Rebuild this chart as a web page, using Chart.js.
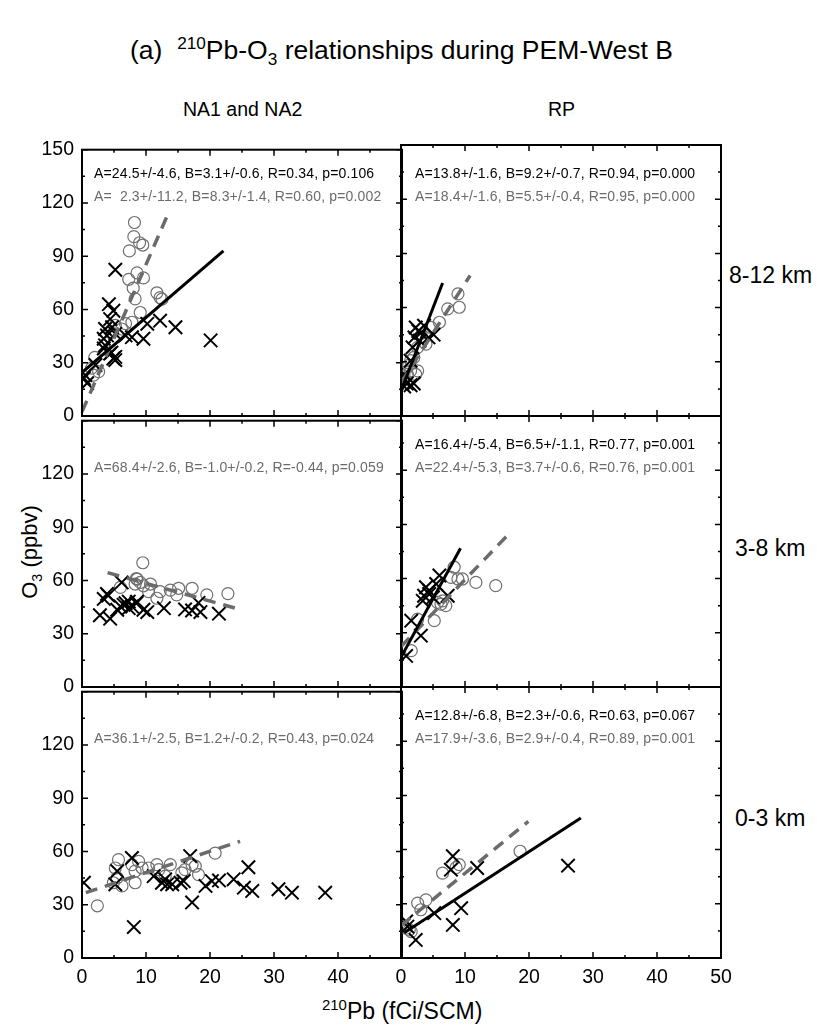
<!DOCTYPE html>
<html lang="en">
<head>
<meta charset="UTF-8">
<title>210Pb-O3 relationships during PEM-West B</title>
<script src="https://cdn.jsdelivr.net/npm/chart.js"></script>
<style>
    body { margin: 0; background: #fff; font-family: 'Liberation Sans', Arial, Helvetica, sans-serif; }
    #wrap { position: relative; width: 817px; height: 1028px; overflow: hidden; background: #fff; }
    #wrap canvas { position: absolute; }
    .lbl { position: absolute; white-space: pre; color: #000; line-height: 1; }
    .big { font-size: 23px; }
    .note { font-size: 14px; letter-spacing: 0.15px; }
    .gray { color: #6b6b6b; }
    sup, sub { font-size: 65%; line-height: 0; }
</style>
</head>
<body>
<div id="wrap">
    <div class="lbl" style="left:130px; top:37px; font-size:26.5px;">(a)&nbsp; <sup>210</sup>Pb-O<sub>3</sub> relationships during PEM-West B</div>
    <div class="lbl" style="left:183px; top:100px; font-size:19.5px;">NA1 and NA2</div>
    <div class="lbl" style="left:548px; top:100px; font-size:19.5px;">RP</div>
    <div class="lbl big" style="left:729px; top:264px;">8-12 km</div>
    <div class="lbl big" style="left:735px; top:537px;">3-8 km</div>
    <div class="lbl big" style="left:735px; top:807px;">0-3 km</div>
    <div class="lbl" style="left:-20px; top:541px; width:100px; text-align:center; transform:rotate(-90deg); font-size:22px;">O<sub>3</sub> (ppbv)</div>
    <div class="lbl big" style="left:322px; top:1000px;"><sup>210</sup>Pb (fCi/SCM)</div>
</div>

<script>
    // panel order: NA upper, RP upper, NA mid, RP mid, NA low, RP low
    const naUpperCircX = [8.2, 8.1, 7.4, 9.0, 9.5, 8.6, 9.6, 7.3, 8.0, 8.3, 11.7, 12.2, 12.5, 9.1, 5.2, 6.8, 7.8, 2.0, 2.6, 1.8, 1.5, 4.5, 6.2];
    const naUpperCircY = [109, 101, 93, 97.6, 96.3, 80.6, 77.8, 77, 72, 66, 69.4, 66.7, 65.8, 58.3, 51, 52, 52.8, 33, 25, 23, 27, 47, 49];
    const naUpperCrossX = [5.2, 4.2, 4.9, 4.4, 3.6, 4.7, 3.9, 5.2, 3.4, 6.8, 7.8, 9.6, 10.2, 12.2, 14.6, 20.1, 3.4, 4.4, 4.9, 5.2, 2.1, 0.5, 0.8, 0.3, 3.6, 4.6, 5.2];
    const naUpperCrossY = [82.4, 63, 59.3, 54.6, 49, 50, 45.4, 46.3, 43.5, 45.4, 44.4, 43.5, 51.9, 53.7, 50, 42.6, 38, 35.2, 32.4, 33.3, 28.7, 23, 18.5, 21.3, 39.8, 35.7, 31.5];

    const rpUpperCircX = [8.9, 9.1, 7.3, 6.0, 4.7, 3.9, 2.6, 2.0, 1.5, 2.6, 1.5, 1.0, 2.3, 0.3, 3.2, 1.2];
    const rpUpperCircY = [67.6, 60.2, 59.3, 51.9, 49, 39.8, 38, 32.4, 30.6, 25, 25, 23, 23, 21, 44, 28];
    const rpUpperCrossX = [2.3, 3.1, 3.6, 2.1, 2.9, 5.1, 1.8, 1.5, 0.9, 1.5, 0.5, 2.0, 0.5, 4.3, 2.7];
    const rpUpperCrossY = [49, 46, 50, 43.5, 41.7, 45, 38, 30.6, 18, 17, 16.3, 18, 23, 43.5, 47];

    const naMidCircX = [9.5, 8.6, 9.1, 8.3, 9.6, 10.7, 6.0, 10.4, 11.7, 12.2, 13.8, 15.1, 14.8, 17.2, 19.5, 22.8, 8.5];
    const naMidCircY = [70, 60.7, 58.9, 58, 57, 58, 56.1, 53.7, 50, 53.7, 54.6, 55.6, 51.9, 55.6, 51.9, 52.6, 61.1];
    const naMidCrossX = [3.9, 3.4, 6.2, 4.1, 2.8, 4.4, 6.5, 7.3, 7.8, 8.5, 9.6, 12.8, 16.1, 17.2, 18.2, 18.5, 21.4, 10.2, 6.0, 6.8, 5.5, 7.3, 8.6];
    const naMidCrossY = [52.4, 49.6, 58.9, 51.5, 40.4, 38.5, 46.3, 48.1, 45.4, 47.2, 43.5, 44.4, 43.7, 43.1, 47.4, 42.2, 41.3, 42.2, 45.4, 47.2, 43.5, 44.4, 48];

    const rpMidCircX = [8.3, 7.8, 8.9, 9.6, 11.7, 14.8, 5.7, 6.25, 7.0, 6.5, 5.2, 2.6, 1.6];
    const rpMidCircY = [66.3, 60.7, 59.8, 59.8, 57.9, 56.1, 46.8, 45.9, 45, 47.7, 36.7, 37.6, 20.1];
    const rpMidCrossX = [6.0, 3.9, 3.6, 4.4, 5.0, 3.4, 5.5, 7.3, 1.6, 3.1, 0.8, 4.4];
    const rpMidCrossY = [61.7, 55.2, 50.5, 51.5, 49.6, 47.7, 57, 50.5, 36.7, 28.4, 17.2, 53.3];

    const naLowCircX = [2.4, 5.7, 5.2, 5.5, 6.25, 4.9, 8.3, 7.8, 8.85, 9.4, 8.3, 10.4, 11.7, 12.0, 13.8, 13.0, 15.6, 16.1, 17.2, 17.7, 18.2, 20.8];
    const naLowCircY = [29.4, 55.4, 50.7, 45.2, 40.6, 42.4, 42.4, 52.6, 54.4, 50.7, 48.9, 50.7, 52.6, 49.8, 52.6, 46.1, 48, 49.8, 52.6, 51.7, 47, 59.1];
    const naLowCrossX = [0.3, 7.8, 5.5, 5.2, 8.1, 11.2, 12.5, 13.3, 13.0, 14.1, 15.4, 16.9, 15.9, 17.2, 19.3, 20.3, 21.4, 23.7, 26.0, 25.3, 26.6, 30.7, 32.8, 38.0];
    const naLowCrossY = [42.4, 56.3, 48.9, 41.5, 17.4, 46.1, 42.4, 41.5, 44.3, 41.5, 42.4, 57.4, 43.3, 31.3, 40.6, 43.3, 43.7, 44.3, 51.1, 39.6, 37.8, 38.7, 36.8, 36.8];

    const rpLowCircX = [18.6, 9.1, 8.6, 6.5, 2.6, 3.9, 3.1, 0.8, 1.3, 1.6, 0.3];
    const rpLowCircY = [59.1, 51.7, 50, 47, 30.4, 32.2, 26.7, 16.5, 15.6, 14.6, 17.4];
    const rpLowCrossX = [8.1, 7.8, 11.9, 26.1, 5.2, 9.4, 8.1, 2.3, 0.8, 1.0];
    const rpLowCrossY = [56.3, 48.9, 49.8, 51.1, 24.8, 27.6, 18.3, 10, 20.2, 17.4];

    // regression y = A + B*x, drawn over [x0, x1]; null = no fit shown
    const crossFitA = [24.5, 13.8, null, 16.4, null, 12.8];
    const crossFitB = [3.1, 9.2, null, 6.5, null, 2.3];
    const crossFitX0 = [0, 0.3, null, 0, null, 0.5];
    const crossFitX1 = [22.1, 6.5, null, 9.3, null, 28.1];
    const circFitA = [2.3, 18.4, 68.4, 22.4, 36.1, 17.9];
    const circFitB = [8.3, 5.5, -1.0, 3.7, 1.2, 2.9];
    const circFitX0 = [0, 0, 4, 0, 0.6, 0];
    const circFitX1 = [13.3, 10.8, 24.7, 17, 24.7, 19.9];

    const crossNotes = [
        'A=24.5+/-4.6, B=3.1+/-0.6, R=0.34, p=0.106',
        'A=13.8+/-1.6, B=9.2+/-0.7, R=0.94, p=0.000',
        '',
        'A=16.4+/-5.4, B=6.5+/-1.1, R=0.77, p=0.001',
        '',
        'A=12.8+/-6.8, B=2.3+/-0.6, R=0.63, p=0.067'
    ];
    const circNotes = [
        'A=  2.3+/-11.2, B=8.3+/-1.4, R=0.60, p=0.002',
        'A=18.4+/-1.6, B=5.5+/-0.4, R=0.95, p=0.000',
        'A=68.4+/-2.6, B=-1.0+/-0.2, R=-0.44, p=0.059',
        'A=22.4+/-5.3, B=3.7+/-0.6, R=0.76, p=0.001',
        'A=36.1+/-2.5, B=1.2+/-0.2, R=0.43, p=0.024',
        'A=17.9+/-3.6, B=2.9+/-0.4, R=0.89, p=0.001'
    ];

    const xTicksMax = 50, yTicksMax = 150;

    const panels = [
        [naUpperCircX, naUpperCircY, naUpperCrossX, naUpperCrossY],
        [rpUpperCircX, rpUpperCircY, rpUpperCrossX, rpUpperCrossY],
        [naMidCircX, naMidCircY, naMidCrossX, naMidCrossY],
        [rpMidCircX, rpMidCircY, rpMidCrossX, rpMidCrossY],
        [naLowCircX, naLowCircY, naLowCrossX, naLowCrossY],
        [rpLowCircX, rpLowCircY, rpLowCrossX, rpLowCrossY]
    ];

    const colLeft = [82, 401];
    const rowTop = [145, 416, 687];
    const plotW = 320, plotH = 271;
    const padL = 70, padT = 15, padR = 20, padB = 40;
    const circColor = '#707070';
    const tickFont = { family: "'Liberation Sans', Arial, sans-serif", size: 19.5 };
    const wrap = document.getElementById('wrap');

    function toPoints(xs, ys) {
        return xs.map((x, i) => ({ x: x, y: ys[i] }));
    }

    function fitLine(a, b, x0, x1) {
        return [{ x: x0, y: a + b * x0 }, { x: x1, y: a + b * x1 }];
    }

    // frame + inward ticks on all four sides
    const framePlugin = {
        id: 'frame',
        afterDraw(chart) {
            const c = chart.ctx, area = chart.chartArea;
            const xs = chart.scales.x, ys = chart.scales.y;
            c.save();
            c.strokeStyle = '#000';
            c.lineWidth = 1.5;
            c.beginPath();
            for (let v = 0; v <= xTicksMax; v += 5) {
                const px = xs.getPixelForValue(v);
                const len = v % 10 === 0 ? 6 : 3;
                c.moveTo(px, area.bottom); c.lineTo(px, area.bottom - len);
                c.moveTo(px, area.top); c.lineTo(px, area.top + len);
            }
            for (let v = 0; v <= yTicksMax; v += 15) {
                const py = ys.getPixelForValue(v);
                const len = v % 30 === 0 ? 6 : 3;
                c.moveTo(area.left, py); c.lineTo(area.left + len, py);
                c.moveTo(area.right, py); c.lineTo(area.right - len, py);
            }
            c.stroke();
            c.lineWidth = 2;
            c.strokeRect(area.left, area.top, area.right - area.left, area.bottom - area.top);
            c.restore();
        }
    };

    panels.forEach((p, i) => {
        const col = i % 2, row = Math.floor(i / 2);
        const canvas = document.createElement('canvas');
        canvas.width = plotW + padL + padR;
        canvas.height = plotH + padT + padB;
        canvas.style.left = (colLeft[col] - padL) + 'px';
        canvas.style.top = (rowTop[row] - padT) + 'px';
        wrap.appendChild(canvas);

        const datasets = [
            {
                data: toPoints(p[0], p[1]),
                pointStyle: 'circle', pointRadius: 6, pointBorderWidth: 1.2,
                pointBorderColor: circColor, pointBackgroundColor: 'rgba(0,0,0,0)',
                showLine: false, order: 3
            },
            {
                data: toPoints(p[2], p[3]),
                pointStyle: 'crossRot', pointRadius: 9.5, pointBorderWidth: 2,
                pointBorderColor: '#000', showLine: false, order: 2
            },
            {
                data: fitLine(circFitA[i], circFitB[i], circFitX0[i], circFitX1[i]),
                showLine: true, pointRadius: 0, borderColor: '#6b6b6b',
                borderWidth: 3.5, borderDash: [12, 8], order: 1
            }
        ];
        if (crossFitA[i] !== null) {
            datasets.push({
                data: fitLine(crossFitA[i], crossFitB[i], crossFitX0[i], crossFitX1[i]),
                showLine: true, pointRadius: 0, borderColor: '#000',
                borderWidth: 3, order: 0
            });
        }

        new Chart(canvas, {
            type: 'scatter',
            data: { datasets: datasets },
            options: {
                responsive: false,
                animation: false,
                events: [],
                layout: { padding: { top: padT, right: padR, left: 0, bottom: 0 } },
                plugins: { legend: { display: false }, tooltip: { enabled: false } },
                scales: {
                    x: {
                        min: 0, max: xTicksMax,
                        grid: { display: false, drawTicks: false },
                        border: { display: false },
                        ticks: {
                            display: row === 2,
                            stepSize: 10, padding: 8, color: '#000',
                            font: tickFont,
                            maxRotation: 0,
                            callback: (v) => (col === 0 && v === 50) ? '' : v
                        },
                        afterFit: (s) => { s.height = padB; }
                    },
                    y: {
                        min: 0, max: yTicksMax,
                        grid: { display: false, drawTicks: false },
                        border: { display: false },
                        ticks: {
                            display: col === 0,
                            stepSize: 30, padding: 8, color: '#000',
                            font: tickFont,
                            callback: (v) => (row > 0 && v === 150) ? '' : v
                        },
                        afterFit: (s) => { s.width = padL; }
                    }
                }
            },
            plugins: [framePlugin]
        });

        // regression notes
        const noteX = colLeft[col] + (col === 0 ? 12 : 14);
        if (crossNotes[i]) {
            const d = document.createElement('div');
            d.className = 'lbl note';
            d.style.left = noteX + 'px';
            d.style.top = (rowTop[row] + 21) + 'px';
            d.textContent = crossNotes[i];
            wrap.appendChild(d);
        }
        const g = document.createElement('div');
        g.className = 'lbl note gray';
        g.style.left = noteX + 'px';
        g.style.top = (rowTop[row] + 44) + 'px';
        g.textContent = circNotes[i];
        wrap.appendChild(g);
    });
</script>
</body>
</html>
